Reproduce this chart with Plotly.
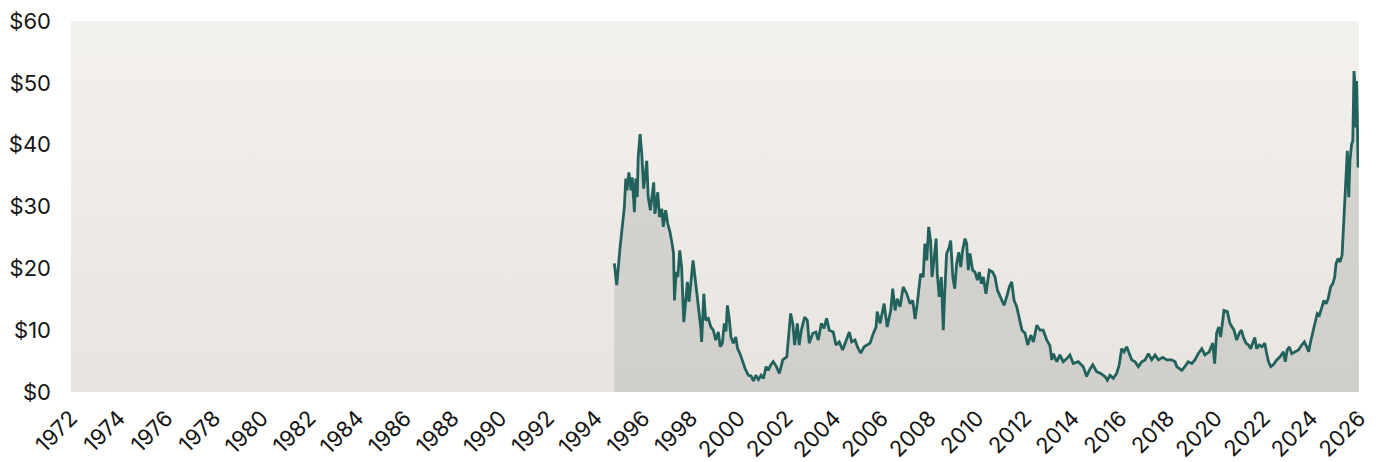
import plotly.graph_objects as go
import pandas as pd

# ---- data (decimal year, price in $) ----
years = [
    1994.78, 1994.88, 1995.02, 1995.11, 1995.20, 1995.26, 1995.31, 1995.39, 1995.48, 1995.53,
    1995.62, 1995.68, 1995.74, 1995.78, 1995.86, 1995.93, 1996.01, 1996.14, 1996.20, 1996.29,
    1996.43, 1996.48, 1996.60, 1996.67, 1996.77, 1996.83, 1996.93, 1997.02, 1997.11, 1997.19,
    1997.26, 1997.30, 1997.37, 1997.44, 1997.52, 1997.60, 1997.69, 1997.77, 1997.84, 1997.91,
    1997.99, 1998.08, 1998.16, 1998.25, 1998.33, 1998.40, 1998.44, 1998.53, 1998.61, 1998.72,
    1998.83, 1998.93, 1999.03, 1999.14, 1999.22, 1999.31, 1999.39, 1999.46, 1999.52, 1999.59,
    1999.67, 1999.77, 1999.87, 1999.95, 2000.05, 2000.14, 2000.26, 2000.40, 2000.51, 2000.61,
    2000.71, 2000.82, 2000.93, 2001.03, 2001.14, 2001.23, 2001.34, 2001.44, 2001.56, 2001.70,
    2001.84, 2002.01, 2002.07, 2002.17, 2002.26, 2002.34, 2002.45, 2002.53, 2002.62, 2002.76,
    2002.87, 2002.95, 2003.10, 2003.23, 2003.33, 2003.46, 2003.57, 2003.68, 2003.79, 2003.96,
    2004.07, 2004.21, 2004.35, 2004.49, 2004.63, 2004.73, 2004.87, 2004.97, 2005.11, 2005.25,
    2005.39, 2005.50, 2005.64, 2005.75, 2005.80, 2005.92, 2006.09, 2006.22, 2006.37, 2006.45,
    2006.55, 2006.64, 2006.76, 2006.89, 2007.04, 2007.18, 2007.29, 2007.39, 2007.48, 2007.57,
    2007.62, 2007.73, 2007.80, 2007.88, 2007.96, 2008.04, 2008.10, 2008.18, 2008.27, 2008.32,
    2008.40, 2008.49, 2008.57, 2008.63, 2008.71, 2008.82, 2008.88, 2008.97, 2009.05, 2009.13,
    2009.22, 2009.30, 2009.38, 2009.48, 2009.55, 2009.62, 2009.69, 2009.80, 2009.90, 2010.00,
    2010.08, 2010.17, 2010.25, 2010.36, 2010.50, 2010.64, 2010.74, 2010.84, 2010.95, 2011.12,
    2011.23, 2011.34, 2011.44, 2011.54, 2011.65, 2011.76, 2011.87, 2012.00, 2012.11, 2012.24,
    2012.35, 2012.49, 2012.63, 2012.76, 2012.91, 2013.04, 2013.12, 2013.18, 2013.33, 2013.46,
    2013.60, 2013.75, 2013.88, 2014.02, 2014.23, 2014.44, 2014.58, 2014.69, 2014.84, 2015.00,
    2015.17, 2015.35, 2015.45, 2015.56, 2015.70, 2015.84, 2015.95, 2016.05, 2016.15, 2016.26,
    2016.37, 2016.47, 2016.61, 2016.75, 2016.89, 2017.03, 2017.17, 2017.31, 2017.45, 2017.59,
    2017.77, 2017.94, 2018.15, 2018.29, 2018.36, 2018.57, 2018.70, 2018.84, 2018.99, 2019.12,
    2019.26, 2019.41, 2019.54, 2019.72, 2019.87, 2019.95, 2020.03, 2020.12, 2020.20, 2020.29,
    2020.34, 2020.48, 2020.59, 2020.76, 2020.87, 2020.98, 2021.07, 2021.15, 2021.26, 2021.37,
    2021.46, 2021.54, 2021.63, 2021.71, 2021.82, 2021.93, 2022.05, 2022.13, 2022.21, 2022.30,
    2022.41, 2022.55, 2022.69, 2022.83, 2022.91, 2022.99, 2023.08, 2023.18, 2023.32, 2023.46,
    2023.60, 2023.71, 2023.81, 2023.89, 2023.97, 2024.08, 2024.17, 2024.25, 2024.34, 2024.44,
    2024.53, 2024.62, 2024.71, 2024.81, 2024.90, 2024.98, 2025.04, 2025.12, 2025.20, 2025.29,
    2025.34, 2025.40, 2025.46, 2025.51, 2025.57, 2025.62, 2025.69, 2025.74, 2025.79, 2025.83,
    2025.87, 2025.90, 2025.93, 2025.96, 2025.99,
]

prices = [
    20.8, 17.3, 23.4, 26.7, 29.9, 34.5, 32.6, 35.5, 32.6, 34.7,
    29.1, 34.5, 31.5, 37.9, 41.7, 38.5, 32.9, 37.4, 31.5, 29.4,
    33.9, 28.8, 32.3, 28.3, 29.6, 26.7, 29.4, 27.2, 25.9, 24.2,
    22.4, 14.8, 19.4, 18.6, 22.9, 20.2, 11.3, 14.6, 17.8, 14.6,
    18.1, 21.3, 18.6, 15.4, 13.2, 10.5, 8.1, 15.9, 11.6, 11.9,
    10.5, 10.0, 8.4, 9.7, 7.3, 7.9, 11.1, 9.8, 14.0, 12.1,
    8.9, 7.9, 8.9, 7.0, 6.2, 5.2, 3.8, 2.7, 2.6, 1.8,
    2.7, 2.0, 2.7, 2.2, 4.1, 3.5, 4.4, 4.9, 4.2, 3.0,
    5.2, 5.7, 8.4, 12.7, 11.1, 7.6, 11.1, 7.6, 10.0, 12.1,
    11.6, 7.9, 9.5, 9.7, 8.4, 11.1, 10.3, 11.9, 10.0, 9.7,
    7.6, 8.1, 6.8, 8.1, 9.7, 8.1, 8.4, 7.3, 6.3, 7.3,
    7.6, 7.9, 9.5, 10.5, 13.0, 11.1, 14.3, 10.5, 13.2, 16.7,
    13.2, 15.1, 13.8, 17.0, 15.9, 14.3, 14.8, 11.8, 14.3, 17.0,
    19.1, 18.6, 24.0, 21.3, 26.7, 24.5, 18.6, 21.3, 24.8, 19.1,
    15.4, 18.6, 10.0, 15.9, 22.4, 23.4, 24.5, 18.6, 16.7, 20.8,
    22.6, 20.2, 22.9, 24.8, 24.0, 19.7, 22.4, 19.7, 19.4, 18.1,
    19.4, 17.5, 18.6, 15.9, 19.7, 19.4, 18.6, 16.5, 15.4, 14.0,
    15.4, 17.0, 17.8, 14.8, 13.8, 11.6, 10.0, 9.5, 7.6, 9.2,
    8.1, 10.8, 10.0, 10.0, 8.4, 7.5, 5.2, 6.2, 4.9, 6.0,
    4.9, 5.4, 6.0, 4.6, 4.9, 4.1, 2.5, 3.5, 4.4, 3.3,
    3.0, 2.5, 1.9, 2.7, 2.2, 3.0, 4.4, 7.0, 6.5, 7.3,
    6.2, 5.2, 4.9, 4.1, 4.9, 5.2, 6.2, 5.2, 6.0, 5.2,
    5.6, 5.2, 5.2, 4.9, 4.1, 3.5, 4.1, 4.9, 4.6, 5.2,
    6.2, 7.0, 6.0, 6.5, 7.9, 4.6, 9.5, 10.5, 8.9, 11.6,
    13.2, 13.0, 11.1, 10.0, 8.4, 9.5, 10.0, 8.9, 7.9, 7.6,
    7.0, 7.9, 8.8, 7.0, 7.6, 7.3, 7.9, 6.2, 4.9, 4.1,
    4.4, 5.2, 5.7, 6.5, 4.9, 6.8, 7.3, 6.2, 6.5, 6.8,
    7.6, 8.1, 7.3, 6.5, 8.1, 10.0, 11.1, 12.7, 12.4, 13.5,
    14.8, 14.3, 15.1, 17.0, 17.5, 18.6, 20.8, 21.6, 21.0, 22.1,
    25.6, 31.0, 33.7, 39.0, 31.5, 37.4, 40.1, 40.6, 51.9, 49.8,
    42.8, 50.3, 44.4, 36.3, 42.5,
]

x_tick_years = [1972, 1974, 1976, 1978, 1980, 1982, 1984, 1986, 1988, 1990, 1992, 1994,
                1996, 1998, 2000, 2002, 2004, 2006, 2008, 2010, 2012, 2014, 2016, 2018,
                2020, 2022, 2024, 2026]
y_tick_values = [0, 10, 20, 30, 40, 50, 60]
y_tick_labels = ["$0", "$10", "$20", "$30", "$40", "$50", "$60"]

x_range = ["1972-01-01", "2026-01-01"]
y_range = [0, 60]


def to_date(y):
    yr = int(y)
    start = pd.Timestamp(year=yr, month=1, day=1)
    end = pd.Timestamp(year=yr + 1, month=1, day=1)
    return start + (end - start) * (y - yr)


dates = [to_date(y) for y in years]
tick_dates = [pd.Timestamp(year=y, month=1, day=1) for y in x_tick_years]
tick_text = [str(y) for y in x_tick_years]

FONT = "Inter, 'Open Sans', sans-serif"

fig = go.Figure()

# plot-area background with a soft vertical gradient
fig.add_trace(go.Scatter(
    x=[x_range[0], x_range[1], x_range[1], x_range[0], x_range[0]],
    y=[y_range[0], y_range[0], y_range[1], y_range[1], y_range[0]],
    mode="lines", line=dict(width=0), fill="toself",
    fillgradient=dict(type="vertical",
                      colorscale=[[0, "#e8e4e0"], [1, "#f3f1ee"]]),
    hoverinfo="skip", showlegend=False,
))

# price series
fig.add_trace(go.Scatter(
    x=dates, y=prices, mode="lines",
    line=dict(color="#22625d", width=2.8),
    fill="tozeroy", fillcolor="rgba(188,187,184,0.52)",
    showlegend=False,
    hovertemplate="%{x|%b %Y}: $%{y:.2f}<extra></extra>",
))

# the page body adds an 8px offset, so the figure is sized to compensate
fig.update_layout(
    width=1368, height=454,
    margin=dict(l=63, r=17, t=13, b=70),
    paper_bgcolor="white",
    plot_bgcolor="white",
    font=dict(family=FONT, size=22, color="#151515"),
    showlegend=False,
)

fig.update_xaxes(
    type="date", range=x_range, automargin=False,
    tickmode="array", tickvals=tick_dates, ticktext=tick_text,
    tickangle=-45, showgrid=False, zeroline=False, showline=False, ticks="",
    ticklabelstandoff=8, ticklabeloverflow="allow",
    tickfont=dict(family=FONT, size=22, color="#151515"),
)
fig.update_yaxes(
    range=y_range, automargin=False,
    tickmode="array", tickvals=y_tick_values, ticktext=y_tick_labels,
    showgrid=False, zeroline=False, showline=False, ticks="",
    ticklabelstandoff=19, ticklabeloverflow="allow",
    tickfont=dict(family=FONT, size=22, color="#151515"),
)

fig.write_html("out.html")
